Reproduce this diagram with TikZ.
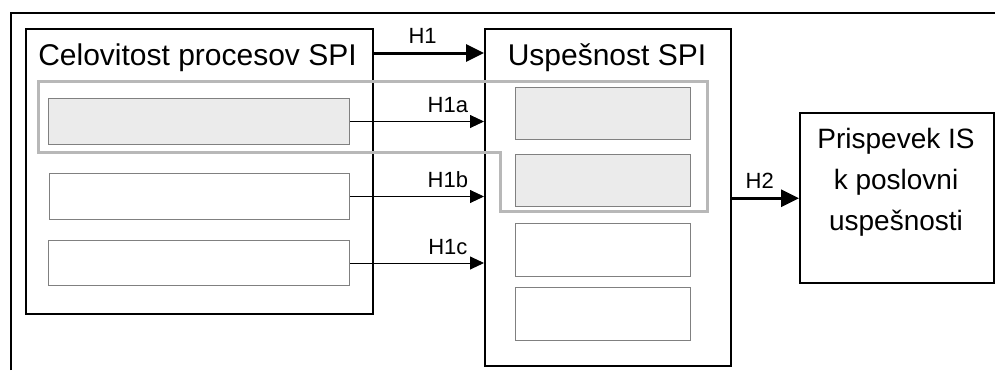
\documentclass[tikz,border=0pt]{standalone}
\usepackage{fontspec}
\setmainfont{Liberation Sans}
\usetikzlibrary{arrows.meta}
\usetikzlibrary{calc}

\begin{document}
\begin{tikzpicture}[
	x=1pt, y=-1pt,
	> = {Triangle[length=14pt,width=13pt]},
	frame/.style = {draw, line width=2.4pt, anchor=north west, inner sep=0pt},
	field/.style = {draw=black!50, line width=1pt, anchor=north west, inner sep=0pt, minimum height=46pt},
	shaded/.style = {field, fill=black!8},
	title/.style = {font=\fontsize{30}{36}\selectfont, anchor=base, inner sep=0pt},
	hyp/.style = {font=\fontsize{22}{24}\selectfont, inner sep=0pt, above=8pt},
	link/.style = {->, line width=0.9pt},
	mainlink/.style = {-{Triangle[length=18pt,width=17pt]}, line width=3pt}
	]
	\useasboundingbox (0,0) rectangle (995,370);

	% open frame round everything
	\draw[line width=2pt] (11,370) |- (995,13);

	\node[frame, minimum width=347pt, minimum height=285pt] (cel) at (25,28) {};
	\node[frame, minimum width=246pt, minimum height=337pt] (usp) at (484,28) {};
	\node[frame, minimum width=194pt, minimum height=170pt] (pri) at (799,112) {};

	\node[title] (celtitle) at (197.5,65) {Celovitost procesov SPI};
	\node[title] (usptitle) at (607,65) {Uspešnost SPI};
	\node[font=\fontsize{28}{41}\selectfont, align=center, anchor=north, inner sep=0pt] (pritext) at (896,128) {Prispevek IS\\k poslovni\\uspešnosti};

	% fields in the left box
	\node[shaded, minimum width=301pt] (c1) at (48,98) {};
	\node[field, minimum width=300pt] (c2) at (49,173) {};
	\node[field, minimum width=301pt, minimum height=45pt] (c3) at (48,240) {};

	% fields in the middle box
	\node[shaded, minimum width=175pt, minimum height=52pt] (u1) at (515,87) {};
	\node[shaded, minimum width=175pt, minimum height=52pt] (u2) at (515,154) {};
	\node[field, minimum width=175pt, minimum height=53pt] (u3) at (515,223) {};
	\node[field, minimum width=175pt, minimum height=53pt] (u4) at (515,287) {};

	\draw[mainlink] ([yshift=-25pt]cel.north east) -- ([yshift=-25pt]usp.north west) node[hyp, pos=0.44] {H1};
	\draw[link] (c1.east) -- (c1.east -| usp.west) node[hyp, pos=0.73] {H1a};
	\draw[link] (c2.east) -- (c2.east -| usp.west) node[hyp, pos=0.73] {H1b};
	\draw[link] (c3.east) -- (c3.east -| usp.west) node[hyp, pos=0.73] {H1c};
	\draw[mainlink] (usp.east |- pri.west) -- (pri.west) node[hyp, pos=0.41] {H2};

	% grey outline over the first pair
	\draw[black!28, line width=3pt, line join=miter] (38,81) -- (707,81) -- (707,211) -- (500,211) -- (500,152) -- (38,152) -- cycle;

\end{tikzpicture}
\end{document}
